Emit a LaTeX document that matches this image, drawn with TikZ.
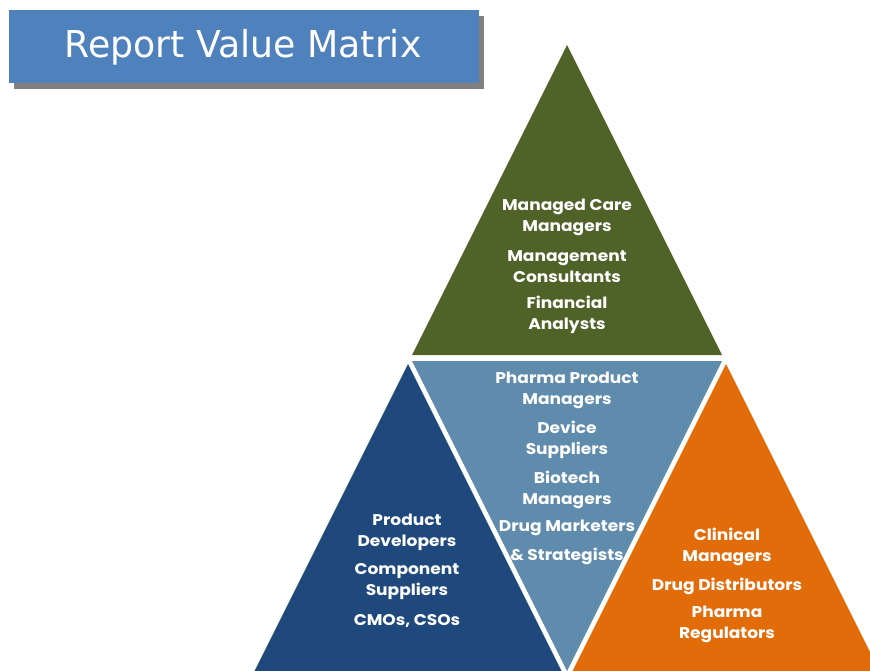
\documentclass[tikz,border=0pt]{standalone}
\usepackage{fontspec}
\setmainfont{Poppins}[FakeStretch=1.1]
\newfontfamily\titlefont[FakeStretch=0.98]{DejaVu Sans}
\definecolor{titleblue}{HTML}{4F81BD}
\definecolor{shadowgrey}{HTML}{808080}
\definecolor{olive}{HTML}{4F6228}
\definecolor{steel}{HTML}{5F8BAD}
\definecolor{navy}{HTML}{1F497D}
\definecolor{orng}{HTML}{E36C0A}
\begin{document}
\begin{tikzpicture}[x=1pt,y=-1pt,
  lbl/.style={text=white,align=center,inner sep=0pt,font=\fontsize{15.5}{21}\selectfont\bfseries},
  tri/.style={draw=none}]
\useasboundingbox (0,0) rectangle (870,670);
% title
\fill[shadowgrey] (14,16) rectangle (484,89);
\node[fill=titleblue,minimum width=470pt,minimum height=73pt,inner sep=0pt,anchor=north west] (title) at (9,10) {};
\node[text=white,font=\titlefont\fontsize{37}{40}\selectfont] (titletext) at (243,47) {Report Value Matrix};
% triangles
\fill[olive] (567,45) -- (412,355) -- (722,355) -- cycle;
\fill[steel] (412,361) -- (722,361) -- (567,671) -- cycle;
\fill[navy] (408,364) -- (254.5,671) -- (561.5,671) -- cycle;
\fill[orng] (726,364) -- (572.5,671) -- (879.5,671) -- cycle;
% top
\node[lbl] (t1) at (567,217) {Managed Care\\Managers};
\node[lbl] (t2) at (567,266.5) {Management\\Consultants};
\node[lbl] (t3) at (567,315) {Financial\\Analysts};
% middle
\node[lbl] (m1) at (567,390.5) {Pharma Product\\Managers};
\node[lbl] (m2) at (567,440) {Device\\Suppliers};
\node[lbl] (m3) at (567,489.5) {Biotech\\Managers};
\node[lbl] (m4) at (567,527.5) {Drug Marketers};
\node[lbl] (m5) at (567,556.5) {\& Strategists};
% left
\node[lbl] (l1) at (407,532.5) {Product\\Developers};
\node[lbl] (l2) at (407,582) {Component\\Suppliers};
\node[lbl] (l3) at (407,620.5) {CMOs, CSOs};
% right
\node[lbl] (r1) at (727,547) {Clinical\\Managers};
\node[lbl] (r2) at (727,586.5) {Drug Distributors};
\node[lbl] (r3) at (727,624.5) {Pharma\\Regulators};
\end{tikzpicture}
\end{document}
